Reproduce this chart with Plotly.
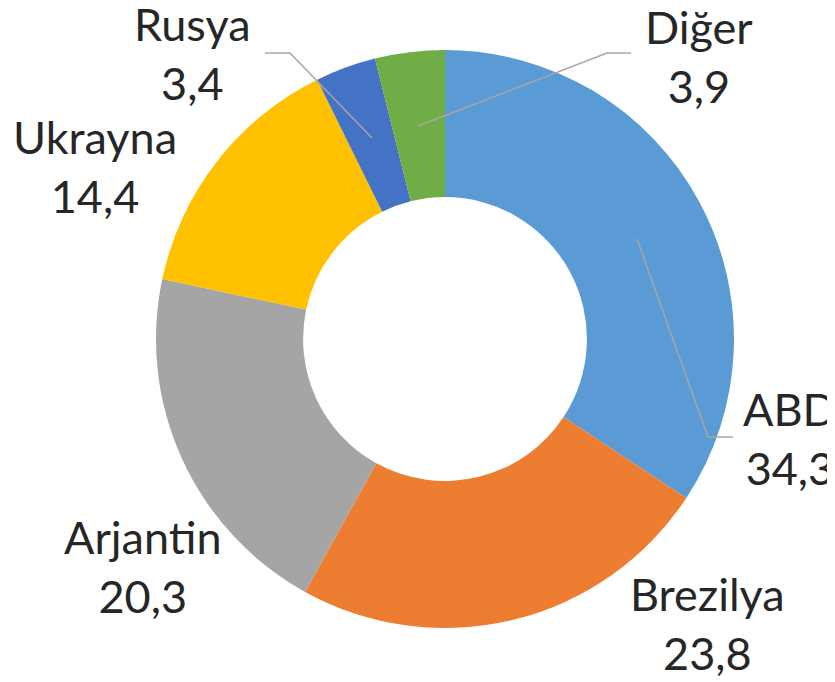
import plotly.graph_objects as go

# data
countries = ["ABD", "Brezilya", "Arjantin", "Ukrayna", "Rusya", "Diğer"]
shares = [34.3, 23.8, 20.3, 14.4, 3.4, 3.9]
colors = ["#5B9BD5", "#ED7D31", "#A5A5A5", "#FFC000", "#4472C4", "#70AD47"]

W, H = 835, 682
OFF = 8  # page body margin around the plot div
FW, FH = W - OFF, H - OFF

# label block centres (px, window coords) and leader lines as laid out in the original
label_pos = {
    "ABD": (790, 438),
    "Brezilya": (707, 623),
    "Arjantin": (143, 566),
    "Ukrayna": (95, 166),
    "Rusya": (192, 53),
    "Diğer": (699, 56),
}
leaders = {
    "ABD": [(733, 437), (708, 437), (637, 239)],
    "Rusya": [(265, 53), (290, 53), (372, 138)],
    "Diğer": [(631, 53), (607, 53), (418, 126)],
}


def px(x, y):
    return (x - OFF) / FW, 1 - (y - OFF) / FH


x0, y1 = px(156, 50)
x1, y0 = px(734, 628)

fig = go.Figure(go.Pie(
    labels=countries,
    values=shares,
    sort=False,
    direction="clockwise",
    rotation=0,
    hole=0.491,
    marker=dict(colors=colors, line=dict(width=0)),
    textinfo="none",
    showlegend=False,
    domain=dict(x=[x0, x1], y=[y0, y1]),
))

for name, val in zip(countries, shares):
    x, y = px(*label_pos[name])
    fig.add_annotation(
        x=x, y=y, xref="paper", yref="paper",
        text="{}<br>{}".format(name, str(val).replace(".", ",")),
        showarrow=False, xanchor="center", yanchor="middle",
        font=dict(family="Lato", size=45, color="#262626"),
    )

for name, pts in leaders.items():
    p = [px(*q) for q in pts]
    path = "M {} {} L {} {} L {} {}".format(p[0][0], p[0][1], p[1][0], p[1][1], p[2][0], p[2][1])
    fig.add_shape(type="path", path=path, xref="paper", yref="paper",
                  line=dict(color="#A6A6A6", width=1.5))

fig.update_layout(
    width=FW, height=FH,
    margin=dict(l=0, r=0, t=0, b=0),
    paper_bgcolor="white", plot_bgcolor="white",
)

fig.write_html("out.html")
